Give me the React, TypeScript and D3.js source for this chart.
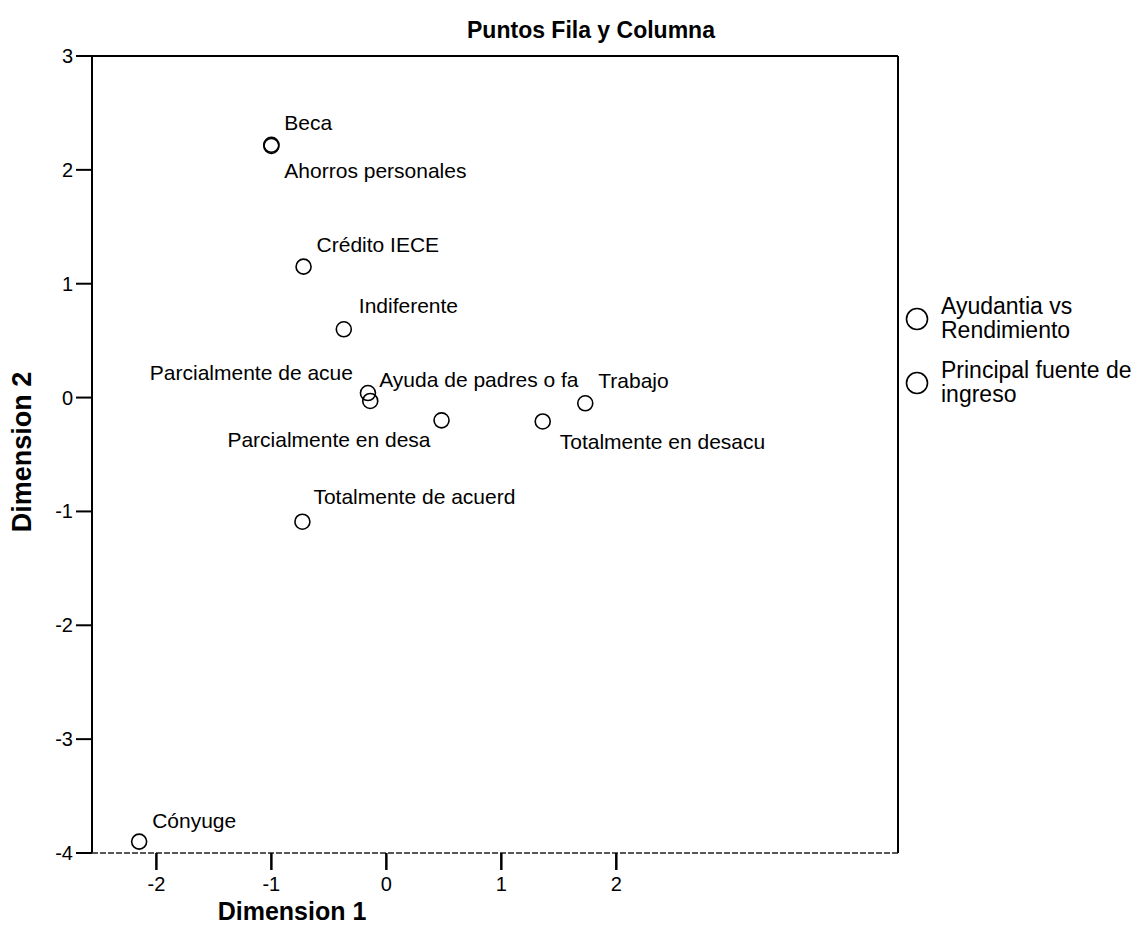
import React from "react";
import * as d3 from "d3";

// ---- data ----
const pointLabels: string[] = [
  "Beca",
  "Ahorros personales",
  "Crédito IECE",
  "Indiferente",
  "Parcialmente de acue",
  "Ayuda de padres o fa",
  "Parcialmente en desa",
  "Totalmente en desacu",
  "Trabajo",
  "Totalmente de acuerd",
  "Cónyuge",
];
const dim1: number[] = [-1.0, -1.0, -0.72, -0.37, -0.16, -0.14, 0.48, 1.36, 1.73, -0.73, -2.15];
const dim2: number[] = [2.22, 2.21, 1.15, 0.6, 0.04, -0.03, -0.2, -0.21, -0.05, -1.09, -3.9];

const xTicks: number[] = [-2, -1, 0, 1, 2];
const yTicks: number[] = [3, 2, 1, 0, -1, -2, -3, -4];
const legendItems: string[][] = [
  ["Ayudantia vs", "Rendimiento"],
  ["Principal fuente de", "ingreso"],
];
const titleText = "Puntos Fila y Columna";
const xTitle = "Dimension 1";
const yTitle = "Dimension 2";

// ---- layout (label placement: dx, dy, anchor) ----
const labelPlacement: [number, number, string][] = [
  [13, -15, "start"],
  [13, 32, "start"],
  [13, -15, "start"],
  [15, -16, "start"],
  [-15, -13, "end"],
  [9, -14, "start"],
  [-11, 27, "end"],
  [17, 28, "start"],
  [13, -15, "start"],
  [11, -18, "start"],
  [13, -14, "start"],
];

const W = 1132;
const H = 941;
const L = 92, R = 898, T = 56, B = 853;
const FONT = "'Liberation Sans', Arial, Helvetica, sans-serif";

export default function App() {
  const x = d3.scaleLinear().domain([-2.56, 4.45]).range([L, R]);
  const y = d3.scaleLinear().domain([-4, 3]).range([B, T]);

  return (
    <svg
      width={W}
      height={H}
      style={{ position: "absolute", left: 0, top: 0, background: "#fff" }}
      fontFamily={FONT}
    >
      <rect x={0} y={0} width={W} height={H} fill="#fff" />
      {/* title */}
      <text x={591} y={38} textAnchor="middle" fontWeight="bold" fontSize={23} fill="#000">
        {titleText}
      </text>

      {/* frame */}
      <line x1={L} y1={T} x2={R} y2={T} stroke="#000" strokeWidth={2} />
      <line x1={R} y1={T} x2={R} y2={B} stroke="#000" strokeWidth={2} />
      <line x1={L} y1={T - 1} x2={L} y2={B} stroke="#000" strokeWidth={2} />
      <line x1={L} y1={B} x2={R} y2={B} stroke="#222" strokeWidth={1.3} strokeDasharray="6 2" />

      {/* y ticks */}
      {yTicks.map((t) => (
        <g key={"y" + t}>
          <line x1={L - 16} x2={L} y1={y(t)} y2={y(t)} stroke="#000" strokeWidth={2} />
          <text x={L - 19} y={y(t)} dy="0.35em" textAnchor="end" fontSize={20} fill="#000">
            {t}
          </text>
        </g>
      ))}

      {/* x ticks */}
      {xTicks.map((t) => (
        <g key={"x" + t}>
          <line x1={x(t)} x2={x(t)} y1={B} y2={B + 17} stroke="#000" strokeWidth={2.5} />
          <text x={x(t)} y={B + 31} dy="0.35em" textAnchor="middle" fontSize={20} fill="#000">
            {t}
          </text>
        </g>
      ))}

      {/* axis titles */}
      <text x={292} y={920} textAnchor="middle" fontWeight="bold" fontSize={25} fill="#000">
        {xTitle}
      </text>
      <text
        transform={`translate(31,452) rotate(-90)`}
        textAnchor="middle"
        fontWeight="bold"
        fontSize={27}
        fill="#000"
      >
        {yTitle}
      </text>

      {/* points */}
      {dim1.map((d, i) => (
        <g key={"p" + i}>
          <circle cx={x(d)} cy={y(dim2[i])} r={7.5} fill="none" stroke="#000" strokeWidth={1.6} />
          <text
            x={x(d) + labelPlacement[i][0]}
            y={y(dim2[i]) + labelPlacement[i][1]}
            textAnchor={labelPlacement[i][2]}
            fontSize={21}
            fill="#000"
          >
            {pointLabels[i]}
          </text>
        </g>
      ))}

      {/* legend */}
      {legendItems.map((lines, i) => (
        <g key={"lg" + i} transform={`translate(917,${319 + i * 64})`}>
          <circle cx={0} cy={0} r={10.5} fill="none" stroke="#000" strokeWidth={1.6} />
          <text x={24} y={-5} fontSize={23} fill="#000">
            {lines[0]}
          </text>
          <text x={24} y={19} fontSize={23} fill="#000">
            {lines[1]}
          </text>
        </g>
      ))}
    </svg>
  );
}
